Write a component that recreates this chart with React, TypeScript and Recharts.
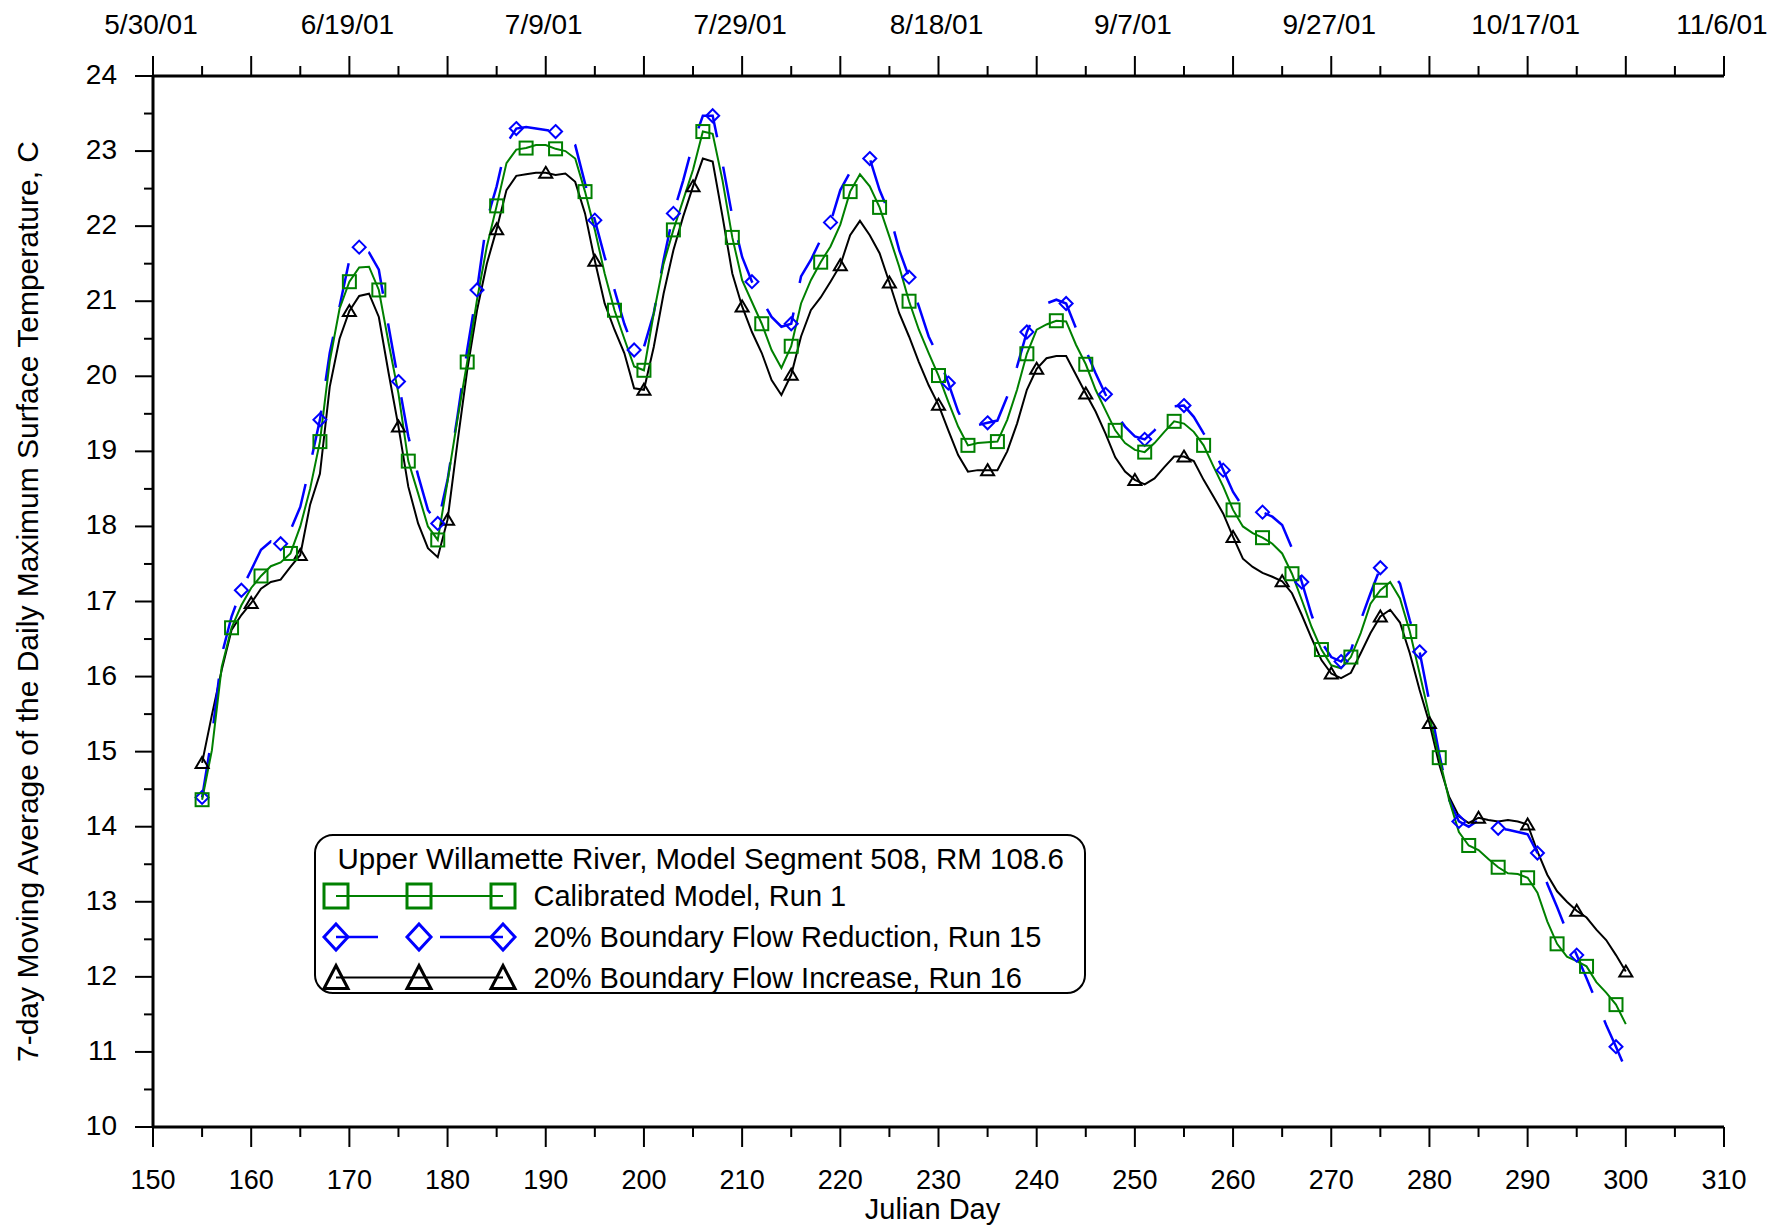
import React from 'react';
import { ComposedChart, Line, XAxis, YAxis } from 'recharts';

// ---------- DATA ----------
const lineDays = [
  155, 156, 157, 158, 159, 160, 161, 162, 163, 164, 165, 166, 167, 168, 169, 170, 171, 172, 173, 174,
  175, 176, 177, 178, 179, 180, 181, 182, 183, 184, 185, 186, 187, 188, 189, 190, 191, 192, 193, 194,
  195, 196, 197, 198, 199, 200, 201, 202, 203, 204, 205, 206, 207, 208, 209, 210, 211, 212, 213, 214,
  215, 216, 217, 218, 219, 220, 221, 222, 223, 224, 225, 226, 227, 228, 229, 230, 231, 232, 233, 234,
  235, 236, 237, 238, 239, 240, 241, 242, 243, 244, 245, 246, 247, 248, 249, 250, 251, 252, 253, 254,
  255, 256, 257, 258, 259, 260, 261, 262, 263, 264, 265, 266, 267, 268, 269, 270, 271, 272, 273, 274,
  275, 276, 277, 278, 279, 280, 281, 282, 283, 284, 285, 286, 287, 288, 289, 290, 291, 292, 293, 294,
  295, 296, 297, 298, 299, 300,
];

const calibratedRun1 = [
  14.36, 15.02, 16.13, 16.65, 16.95, 17.18, 17.34, 17.47, 17.52, 17.64, 18.0, 18.5, 19.13, 20.2, 20.9, 21.26, 21.45, 21.46, 21.15, 20.44,
  19.77, 18.87, 18.44, 18.0, 17.82, 18.6, 19.42, 20.19, 21.02, 21.73, 22.27, 22.84, 23.02, 23.04, 23.08, 23.08, 23.03, 23.0, 22.9, 22.46,
  21.95, 21.37, 20.88, 20.5, 20.13, 20.08, 20.84, 21.5, 21.95, 22.35, 22.75, 23.26, 23.23, 22.61, 21.85, 21.28, 20.99, 20.7, 20.35, 20.11,
  20.4, 20.97, 21.28, 21.52, 21.73, 22.02, 22.46, 22.69, 22.53, 22.25, 21.86, 21.46, 21.0, 20.62, 20.31, 20.01, 19.66, 19.33, 19.08, 19.11,
  19.12, 19.13, 19.42, 19.82, 20.3, 20.62, 20.69, 20.74, 20.73, 20.42, 20.16, 19.82, 19.55, 19.28, 19.11, 19.02, 18.99, 19.11, 19.26, 19.4,
  19.37, 19.26, 19.08, 18.8, 18.53, 18.22, 18.0, 17.91, 17.85, 17.77, 17.64, 17.37, 17.02, 16.66, 16.36, 16.15, 16.11, 16.26, 16.58, 16.97,
  17.15, 17.26, 17.04, 16.6, 16.04, 15.47, 14.92, 14.36, 13.93, 13.75, 13.69, 13.57, 13.46, 13.38, 13.37, 13.32, 13.12, 12.74, 12.44, 12.27,
  12.21, 12.14, 11.93, 11.79, 11.63, 11.37,
];

const flowReductionRun15 = [
  14.39, 15.2, 16.29, 16.8, 17.15, 17.42, 17.69, 17.8, 17.77, 17.95, 18.26, 18.82, 19.42, 20.31, 20.93, 21.55, 21.72, 21.65, 21.42, 20.66,
  19.93, 19.2, 18.68, 18.22, 18.04, 18.62, 19.46, 20.35, 21.15, 22.08, 22.53, 23.1, 23.3, 23.32, 23.3, 23.28, 23.26, 23.19, 23.08, 22.57,
  22.08, 21.59, 21.15, 20.7, 20.35, 20.39, 20.84, 21.55, 22.17, 22.61, 23.1, 23.47, 23.47, 22.84, 22.13, 21.59, 21.26, 21.02, 20.79, 20.66,
  20.7, 21.33, 21.55, 21.82, 22.05, 22.48, 22.72, 22.88, 22.9, 22.48, 22.17, 21.68, 21.32, 20.93, 20.53, 20.26, 19.91, 19.53, 19.28, 19.35,
  19.38, 19.41, 19.73, 20.13, 20.59, 20.88, 20.97, 21.02, 20.97, 20.64, 20.35, 20.04, 19.76, 19.51, 19.33, 19.2, 19.16, 19.28, 19.44, 19.6,
  19.61, 19.46, 19.24, 19.04, 18.75, 18.46, 18.26, 18.2, 18.19, 18.13, 18.02, 17.71, 17.26, 16.82, 16.46, 16.26, 16.2, 16.35, 16.75, 17.11,
  17.45, 17.42, 17.24, 16.75, 16.33, 15.66, 14.97, 14.36, 14.07, 14.0, 14.09, 14.05, 13.98, 13.96, 13.93, 13.9, 13.65, 13.24, 12.93, 12.6,
  12.29, 11.98, 11.67, 11.36, 11.07, 10.76,
];

const flowIncreaseRun16 = [
  14.85, 15.49, 16.09, 16.62, 16.82, 16.98, 17.17, 17.26, 17.29, 17.46, 17.62, 18.29, 18.7, 19.86, 20.5, 20.87, 21.07, 21.1, 20.79, 20.04,
  19.33, 18.53, 18.04, 17.71, 17.59, 18.09, 19.11, 20.08, 20.88, 21.5, 21.96, 22.48, 22.67, 22.69, 22.71, 22.71, 22.68, 22.7, 22.59, 22.17,
  21.54, 20.97, 20.62, 20.31, 19.84, 19.82, 20.39, 21.1, 21.68, 22.13, 22.53, 22.9, 22.86, 22.13, 21.37, 20.93, 20.59, 20.31, 19.95, 19.75,
  20.02, 20.53, 20.88, 21.05, 21.26, 21.48, 21.88, 22.07, 21.88, 21.64, 21.25, 20.84, 20.53, 20.19, 19.88, 19.62, 19.28, 18.95, 18.73, 18.75,
  18.75, 18.75, 19.0, 19.37, 19.82, 20.1, 20.24, 20.27, 20.27, 20.02, 19.77, 19.53, 19.24, 18.92, 18.73, 18.62, 18.56, 18.64, 18.79, 18.93,
  18.93, 18.87, 18.62, 18.4, 18.17, 17.86, 17.57, 17.46, 17.38, 17.33, 17.27, 17.11, 16.82, 16.51, 16.22, 16.04, 15.98, 16.05, 16.31, 16.58,
  16.8, 16.89, 16.72, 16.31, 15.82, 15.38, 14.83, 14.4, 14.14, 14.05, 14.12, 14.09, 14.07, 14.09, 14.07, 14.03, 13.67, 13.36, 13.14, 13.0,
  12.88, 12.79, 12.63, 12.49, 12.29, 12.07,
];

const calibratedMarkerDays = [
  155, 158, 161, 164, 167, 170, 173, 176, 179, 182, 185, 188, 191, 194, 197, 200, 203, 206, 209, 212, 215, 218, 221, 224, 227,
  230, 233, 236, 239, 242, 245, 248, 251, 254, 257, 260, 263, 266, 269, 272, 275, 278, 281, 284, 287, 290, 293, 296, 299,
];
const reductionMarkerDays = [
  155, 159, 163, 167, 171, 175, 179, 183, 187, 191, 195, 199, 203, 207, 211, 215, 219, 223, 227, 231, 235, 239, 243, 247, 251,
  255, 259, 263, 267, 271, 275, 279, 283, 287, 291, 295, 299,
];
const increaseMarkerDays = [
  155, 160, 165, 170, 175, 180, 185, 190, 195, 200, 205, 210, 215, 220, 225, 230, 235, 240, 245, 250, 255, 260, 265, 270, 275,
  280, 285, 290, 295, 300,
];

const xTicks = [150, 155, 160, 165, 170, 175, 180, 185, 190, 195, 200, 205, 210, 215, 220, 225, 230, 235, 240, 245, 250, 255, 260, 265, 270, 275, 280, 285, 290, 295, 300, 305, 310];
const topDateTicks = [150, 170, 190, 210, 230, 250, 270, 290, 310];
const topDateLabels = ['5/30/01', '6/19/01', '7/9/01', '7/29/01', '8/18/01', '9/7/01', '9/27/01', '10/17/01', '11/6/01'];
const yTicks = [10, 10.5, 11, 11.5, 12, 12.5, 13, 13.5, 14, 14.5, 15, 15.5, 16, 16.5, 17, 17.5, 18, 18.5, 19, 19.5, 20, 20.5, 21, 21.5, 22, 22.5, 23, 23.5, 24];

const legendTitle = 'Upper Willamette River, Model Segment 508, RM 108.6';
const seriesNames = ['Calibrated Model, Run 1', '20% Boundary Flow Reduction, Run 15', '20% Boundary Flow Increase, Run 16'];
const xTitle = 'Julian Day';
const yTitle = '7-day Moving Average of the Daily Maximum Surface Temperature, C';

// ---------- STYLE ----------
const GREEN = '#008000';
const BLUE = '#0000ff';
const BLACK = '#000000';
const FONT = '"Liberation Sans", Arial, sans-serif';

const chartData = lineDays.map((day, i) => ({
  day,
  cal: calibratedRun1[i],
  red: flowReductionRun15[i],
  inc: flowIncreaseRun16[i],
}));

const calSet = new Set(calibratedMarkerDays);
const redSet = new Set(reductionMarkerDays);
const incSet = new Set(increaseMarkerDays);

const squareDot = (props: any) => {
  const { cx, cy, payload, index } = props;
  if (!calSet.has(payload.day)) return <g key={`cs-${index}`} />;
  return <rect key={`cs-${index}`} x={cx - 6.5} y={cy - 6.5} width={13} height={13} fill="none" stroke={GREEN} strokeWidth={2} />;
};
const diamondDot = (props: any) => {
  const { cx, cy, payload, index } = props;
  if (!redSet.has(payload.day)) return <g key={`rd-${index}`} />;
  const r = 6.5;
  return (
    <path key={`rd-${index}`} d={`M${cx},${cy - r}L${cx + r},${cy}L${cx},${cy + r}L${cx - r},${cy}Z`} fill="none" stroke={BLUE} strokeWidth={2} />
  );
};
const triangleDot = (props: any) => {
  const { cx, cy, payload, index } = props;
  if (!incSet.has(payload.day)) return <g key={`it-${index}`} />;
  return (
    <path key={`it-${index}`} d={`M${cx},${cy - 6}L${cx + 6.5},${cy + 5}L${cx - 6.5},${cy + 5}Z`} fill="none" stroke={BLACK} strokeWidth={2} />
  );
};

const BottomTick = (props: any) => {
  const { x, y, payload } = props;
  const v = payload.value;
  const major = v % 10 === 0;
  return (
    <g>
      <line x1={x} x2={x} y1={y} y2={y + (major ? 20 : 10)} stroke={BLACK} strokeWidth={2} />
      {major && (
        <text x={x} y={y + 62} textAnchor="middle" fontSize={27} fontFamily={FONT} fill={BLACK}>
          {v}
        </text>
      )}
    </g>
  );
};

const TopTick = (props: any) => {
  const { x, y, payload } = props;
  const v = payload.value;
  const major = v % 10 === 0;
  const idx = topDateTicks.indexOf(v);
  return (
    <g>
      <line x1={x} x2={x} y1={y} y2={y - (major ? 20 : 10)} stroke={BLACK} strokeWidth={2} />
      {idx >= 0 && (
        <text x={x - 2} y={y - 42} textAnchor="middle" fontSize={28} fontFamily={FONT} fill={BLACK}>
          {topDateLabels[idx]}
        </text>
      )}
    </g>
  );
};

const LeftTick = (props: any) => {
  const { x, y, payload } = props;
  const v = payload.value;
  const major = Number.isInteger(v);
  return (
    <g>
      <line x1={x} x2={x - (major ? 18 : 9)} y1={y} y2={y} stroke={BLACK} strokeWidth={2} />
      {major && (
        <text x={x - 36} y={y + 8} textAnchor="end" fontSize={28} fontFamily={FONT} fill={BLACK}>
          {v}
        </text>
      )}
    </g>
  );
};

const W = 1760;
const H = 1217;

const Legend = () => {
  const bx = 307;
  const by = 827;
  const sx = [328, 411, 495];
  const rows = [888, 929, 969.5];
  return (
    <g>
      <rect x={bx} y={by} width={770} height={158} rx={18} ry={18} fill="#fff" stroke={BLACK} strokeWidth={2} />
      <text x={329.5} y={861} fontSize={29.5} fontFamily={FONT} fill={BLACK}>
        {legendTitle}
      </text>
      {/* Calibrated */}
      <line x1={sx[0]} x2={sx[2]} y1={rows[0]} y2={rows[0]} stroke={GREEN} strokeWidth={2} />
      {sx.map((x, i) => (
        <rect key={`ls${i}`} x={x - 12} y={rows[0] - 12} width={24} height={24} fill="none" stroke={GREEN} strokeWidth={3} />
      ))}
      {/* Reduction */}
      <line x1={sx[0]} x2={sx[0] + 42} y1={rows[1]} y2={rows[1]} stroke={BLUE} strokeWidth={2.5} />
      <line x1={sx[1] + 21} x2={sx[2]} y1={rows[1]} y2={rows[1]} stroke={BLUE} strokeWidth={2.5} />
      {sx.map((x, i) => (
        <path key={`ld${i}`} d={`M${x},${rows[1] - 13}L${x + 12},${rows[1]}L${x},${rows[1] + 13}L${x - 12},${rows[1]}Z`} fill="none" stroke={BLUE} strokeWidth={3} />
      ))}
      {/* Increase */}
      <line x1={sx[0]} x2={sx[2]} y1={rows[2]} y2={rows[2]} stroke={BLACK} strokeWidth={2} />
      {sx.map((x, i) => (
        <path key={`lt${i}`} d={`M${x},${rows[2] - 12}L${x + 12},${rows[2] + 11}L${x - 12},${rows[2] + 11}Z`} fill="none" stroke={BLACK} strokeWidth={3} />
      ))}
      {seriesNames.map((n, i) => (
        <text key={`ln${i}`} x={525.5} y={rows[i] + 10} fontSize={29} fontFamily={FONT} fill={BLACK}>
          {n}
        </text>
      ))}
    </g>
  );
};

export default function App() {
  return (
    <div style={{ position: 'relative', width: W, height: H, background: '#fff' }}>
      <ComposedChart
        width={W}
        height={H}
        data={chartData}
        margin={{ top: 8, right: 44, bottom: 18, left: 45 }}
      >
        <XAxis
          xAxisId="bottom"
          dataKey="day"
          type="number"
          domain={[150, 310]}
          ticks={xTicks}
          interval={0}
          height={80}
          tickSize={0}
          tickMargin={0}
          tickLine={false}
          axisLine={{ stroke: BLACK, strokeWidth: 3 }}
          tick={<BottomTick />}
          allowDataOverflow
        />
        <XAxis
          xAxisId="top"
          orientation="top"
          dataKey="day"
          type="number"
          domain={[150, 310]}
          ticks={xTicks}
          interval={0}
          height={60}
          tickSize={0}
          tickMargin={0}
          tickLine={false}
          axisLine={{ stroke: BLACK, strokeWidth: 3 }}
          tick={<TopTick />}
          allowDataOverflow
        />
        <YAxis
          yAxisId="left"
          type="number"
          domain={[10, 24]}
          ticks={yTicks}
          interval={0}
          width={100}
          tickSize={0}
          tickMargin={0}
          tickLine={false}
          axisLine={{ stroke: BLACK, strokeWidth: 3 }}
          tick={<LeftTick />}
          allowDataOverflow
        />
        <Line
          xAxisId="bottom"
          yAxisId="left"
          type="linear"
          dataKey="inc"
          stroke={BLACK}
          strokeWidth={2}
          dot={triangleDot}
          activeDot={false}
          isAnimationActive={false}
        />
        <Line
          xAxisId="bottom"
          yAxisId="left"
          type="linear"
          dataKey="red"
          stroke={BLUE}
          strokeWidth={2.5}
          strokeDasharray="45 30"
          dot={diamondDot}
          activeDot={false}
          isAnimationActive={false}
        />
        <Line
          xAxisId="bottom"
          yAxisId="left"
          type="linear"
          dataKey="cal"
          stroke={GREEN}
          strokeWidth={2}
          dot={squareDot}
          activeDot={false}
          isAnimationActive={false}
        />
      </ComposedChart>
      <svg width={W} height={H} style={{ position: 'absolute', left: 0, top: 0, pointerEvents: 'none' }}>
        <text
          transform={`translate(30, 593.5) rotate(-90)`}
          textAnchor="middle"
          fontSize={30}
          fontFamily={FONT}
          fill={BLACK}
        >
          {yTitle}
        </text>
        <text x={924.5} y={1211} textAnchor="middle" fontSize={29} fontFamily={FONT} fill={BLACK}>
          {xTitle}
        </text>
        <Legend />
      </svg>
    </div>
  );
}
